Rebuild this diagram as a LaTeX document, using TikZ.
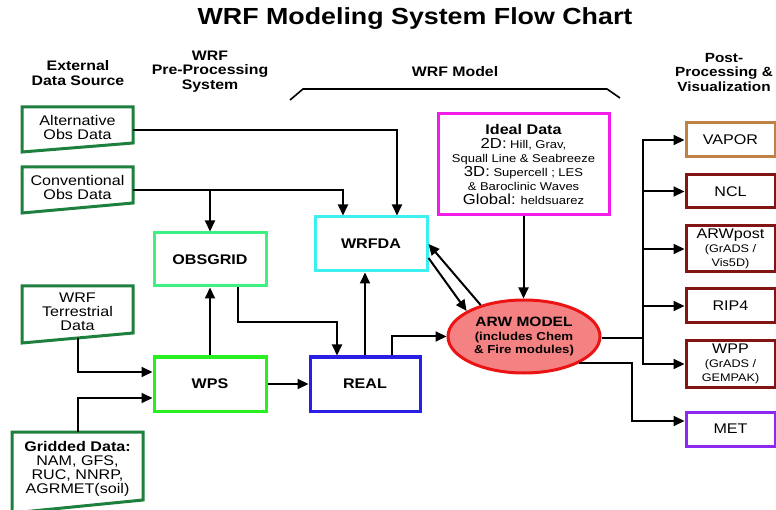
\documentclass[tikz,border=0pt]{standalone}
\usepackage{fontspec}
\setmainfont{Liberation Sans}[FakeStretch=1.15]
\usetikzlibrary{arrows.meta,calc,shapes.geometric}
\definecolor{dgreen}{RGB}{30,128,62}
\definecolor{obsg}{RGB}{60,240,130}
\definecolor{wpsc}{RGB}{40,240,30}
\definecolor{realc}{RGB}{40,30,230}
\definecolor{wrfdac}{RGB}{60,240,240}
\definecolor{idealc}{RGB}{240,30,230}
\definecolor{arwf}{RGB}{245,130,130}
\definecolor{arwb}{RGB}{235,20,20}
\definecolor{vaporc}{RGB}{190,130,70}
\definecolor{dred}{RGB}{130,20,20}
\definecolor{metc}{RGB}{140,40,240}
\tikzset{
  box/.style={draw, line width=3pt, inner sep=0pt, align=center, font=\fontsize{14}{14}\selectfont},
  bbox/.style={box, font=\bfseries\fontsize{14}{14}\selectfont},
  conn/.style={line width=2pt},
  arr/.style={conn, -{Triangle[length=11pt,width=10pt]}},
  hdr/.style={align=center, font=\bfseries\fontsize{13.8}{14.5}\selectfont, inner sep=0pt},
  dtext/.style={inner sep=0pt, align=center, font=\fontsize{14}{14}\selectfont, minimum width=111pt},
  dshape/.style={draw=dgreen, line width=3pt, line join=miter}
}
\begin{document}
\begin{tikzpicture}[x=1pt,y=-1pt]
\useasboundingbox (0,0) rectangle (776,510);
% title and headers
\node[font=\bfseries\fontsize{23.3}{25}\selectfont, inner sep=0pt] (title) at (415,19) {WRF Modeling System Flow Chart};
\node[hdr] (hext) at (78,73) {External\\Data Source};
\node[hdr] (hpre) at (210,71.5) {WRF\\Pre-Processing\\System};
\node[hdr] (hmod) at (455,72) {WRF Model};
\node[hdr, font=\bfseries\fontsize{13.3}{14.5}\selectfont] (hpost) at (724,72) {Post-\\Processing \&\\Visualization};
\draw[line width=1.6pt] (290,100) -- (303,89) -- (607,89) -- (620,98);
% external data shapes
\draw[dshape] (22,107) -- (133,107) -- (133,143) -- (22,152) -- cycle;
\draw[dshape] (22,167) -- (133,167) -- (133,203) -- (22,213) -- cycle;
\draw[dshape] (22,286) -- (133,286) -- (133,333) -- (22,343) -- cycle;
\draw[dshape] (12,432) -- (143,432) -- (143,500) -- (12,513) -- cycle;
\node[dtext] (alt) at (77.5,127) {Alternative\\Obs Data};
\node[dtext] (conv) at (77.5,187.5) {Conventional\\Obs Data};
\node[dtext] (terr) at (77.5,311.5) {WRF\\Terrestrial\\Data};
\node[dtext] (grid) at (77.5,469) {\textbf{Gridded Data:}\\NAM, GFS,\\RUC, NNRP,\\AGRMET(soil)};
% boxes
\node[bbox, draw=obsg, minimum width=112pt, minimum height=53pt] (obsgrid) at (210,259.5) {OBSGRID};
\node[bbox, draw=wpsc, minimum width=112pt, minimum height=54pt] (wps) at (210,384) {WPS};
\node[bbox, draw=realc, minimum width=110pt, minimum height=54pt] (real) at (365,384) {REAL};
\node[bbox, draw=wrfdac, minimum width=112pt, minimum height=54pt] (wrfda) at (371,244) {WRFDA};
\node[box, draw=idealc, minimum width=171pt, minimum height=101pt, font=\fontsize{11.3}{14}\selectfont] (ideal) at (523.5,164.5)
  {{\bfseries\fontsize{14}{14}\selectfont Ideal Data}\\{\fontsize{14.5}{14}\selectfont 2D:} Hill, Grav,\\Squall Line \& Seabreeze\\{\fontsize{14.5}{14}\selectfont 3D:} Supercell ; LES\\\& Baroclinic Waves\\{\fontsize{14.5}{14}\selectfont Global:} heldsuarez};
\node[ellipse, draw=arwb, fill=arwf, line width=3pt, inner sep=0pt, minimum width=152pt, minimum height=73pt, align=center, font=\bfseries\fontsize{11.5}{13.5}\selectfont] (arw) at (524,336.5)
  {{\fontsize{13.5}{13.5}\selectfont ARW MODEL}\\(includes Chem\\\& Fire modules)};
\node[box, draw=vaporc, minimum width=89pt, minimum height=34pt] (vapor) at (730.5,140) {VAPOR};
\node[box, draw=dred, minimum width=89pt, minimum height=33pt] (ncl) at (730.5,191.5) {NCL};
\node[box, draw=dred, minimum width=89pt, minimum height=46pt] (arwpost) at (730.5,249) {ARWpost\\{\fontsize{11}{13}\selectfont (GrADS /}\\{\fontsize{11}{13}\selectfont Vis5D)}};
\node[box, draw=dred, minimum width=89pt, minimum height=34pt] (rip) at (730.5,306) {RIP4};
\node[box, draw=dred, minimum width=89pt, minimum height=46pt] (wpp) at (730.5,364) {WPP\\{\fontsize{11}{13}\selectfont (GrADS /}\\{\fontsize{11}{13}\selectfont GEMPAK)}};
\node[box, draw=metc, minimum width=89pt, minimum height=34pt] (met) at (730.5,429) {MET};
% connector helper coordinates
\coordinate (altout) at ([yshift=-3pt]alt.east);
\coordinate (convout) at ([yshift=-2.5pt]conv.east);
\coordinate (terrout) at ($(terr.center)+(0,26.5)$);
\coordinate (gridout) at ($(grid.center)+(0,-37)$);
\coordinate (trunk) at (643,0);
\coordinate (mj) at (632,0);
\coordinate (metin) at ([yshift=8pt]met.west);
\coordinate (arwout) at ([yshift=-1.5pt]arw.east);
% left connectors
\draw[arr] (altout) -| ([xshift=26pt]wrfda.north);
\draw[arr] (convout) -| ([xshift=-28pt]wrfda.north);
\draw[arr] (convout -| obsgrid.north) -- (obsgrid.north);
\draw[arr] (terrout) |- ([yshift=12pt]wps.west);
\draw[arr] (gridout) |- ([yshift=-14pt]wps.west);
\draw[arr] (wps.north) -- (obsgrid.south);
\draw[arr] ([xshift=28pt]obsgrid.south) -- ++(0,35) -| ([xshift=-28pt]real.north);
\draw[arr] (wps.east) -- (real.west);
\draw[arr] (real.north) -- (real.north |- wrfda.south);
\draw[arr] ([xshift=27pt]real.north) |- (arw.west);
\draw[arr] (ideal.south) -- (ideal.south |- arw.north);
\draw[arr] (arw.144) -- (wrfda.east);
\draw[arr] ([yshift=-14pt]wrfda.east) -- (arw.156);
% right connectors
\draw[conn] (arwout) -- (arwout -| trunk);
\draw[conn, line cap=rect] (vapor.west -| trunk) -- (wpp.west -| trunk);
\foreach \n in {vapor,ncl,arwpost,rip,wpp} \draw[arr] (\n.west -| trunk) -- (\n.west);
\draw[arr] (arw.-26) -| (mj |- metin) -- (metin);
\end{tikzpicture}
\end{document}
